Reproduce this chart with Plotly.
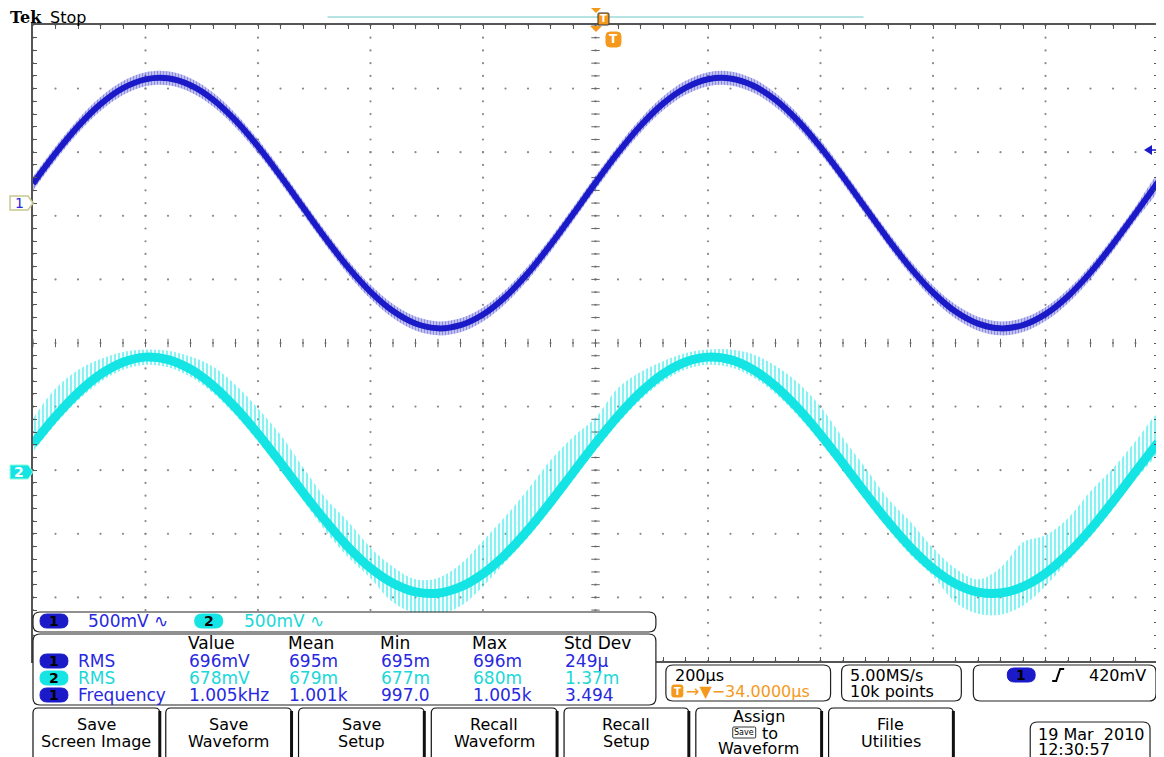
import plotly.graph_objects as go

# scope screen: 200 us/div, 500 mV/div, samples read every 0.2 div
t_us = [-1000 + 40 * i for i in range(51)]

ch1_mv = [153, 390, 603, 778, 904, 973, 981, 926, 814, 650, 446, 213, -33, -277, -504, -698, -849,
          -947, -985, -960, -876, -736, -550, -329, -88, 159, 396, 608, 782, 906, 974, 980, 924, 811,
          646, 440, 207, -39, -283, -509, -703, -853, -948, -985, -959, -873, -732, -545, -323, -82, 165]
ch1_noise_mv = 55

ch2_mv = [246, 462, 648, 794, 889, 929, 910, 834, 705, 532, 326, 99, -135, -359, -562, -729, -849,
          -917, -927, -878, -774, -622, -430, -211, 21, 252, 467, 652, 797, 891, 929, 909, 831, 701,
          527, 320, 93, -141, -365, -566, -732, -852, -918, -926, -876, -771, -617, -425, -205, 27, 258]
# extent of the spikes around the cyan trace
ch2_spike_up_mv = [200, 220, 180, 120, 80, 60, 70, 100, 150, 180, 200, 220, 200, 180, 200, 160, 130,
                   100, 120, 180, 260, 300, 320, 330, 280, 200, 220, 160, 100, 70, 60, 80, 120, 160,
                   200, 220, 200, 200, 180, 200, 160, 120, 100, 200, 350, 300, 280, 300, 260, 240, 220]
ch2_spike_dn_mv = [60, 60, 60, 60, 60, 60, 60, 60, 60, 60, 60, 60, 60, 80, 80, 80, 150, 170, 170, 150,
                   100, 60, 60, 60, 60, 60, 60, 60, 60, 60, 60, 60, 60, 60, 60, 60, 60, 60, 60, 60, 60,
                   150, 170, 170, 150, 100, 60, 60, 60, 60, 60]

ch1_offset_div = 2.2
ch2_offset_div = -2.08
mv_per_div = 500

meas_cols = ["Value", "Mean", "Min", "Max", "Std Dev"]
meas_rows = [
    ("1", "RMS", ["696mV", "695m", "695m", "696m", "249µ"]),
    ("2", "RMS", ["678mV", "679m", "677m", "680m", "1.37m"]),
    ("1", "Frequency", ["1.005kHz", "1.001k", "997.0", "1.005k", "3.494"]),
]
buttons = [["Save", "Screen Image"], ["Save", "Waveform"], ["Save", "Setup"], ["Recall", "Waveform"],
           ["Recall", "Setup"], ["Assign", "", "Waveform"], ["File", "Utilities"]]

BLUE = "#1a1ac8"
BLUE_TXT = "#2828e0"
CYAN = "#14e4e4"
CYAN_TXT = "#1ad8d8"
ORANGE = "#f5991c"
FONT = "DejaVu Sans"
FS = 17

# screen pixel frame of the graticule (page body adds an 8 px margin)
PAGE = 8
W, H = 1164 - PAGE, 757 - PAGE
L, R, T, B = 33, 1160, 25, 661


def X(x):
    return (x - L) / (R - L)


def Y(y):
    return (B - y) / (B - T)


def rrect(x0, y0, x1, y1, r):
    return (f"M{X(x0 + r)},{Y(y0)} L{X(x1 - r)},{Y(y0)} Q{X(x1)},{Y(y0)} {X(x1)},{Y(y0 + r)} "
            f"L{X(x1)},{Y(y1 - r)} Q{X(x1)},{Y(y1)} {X(x1 - r)},{Y(y1)} L{X(x0 + r)},{Y(y1)} "
            f"Q{X(x0)},{Y(y1)} {X(x0)},{Y(y1 - r)} L{X(x0)},{Y(y0 + r)} Q{X(x0)},{Y(y0)} {X(x0 + r)},{Y(y0)} Z")


def poly(pts):
    return "M" + " L".join(f"{X(a)},{Y(b)}" for a, b in pts) + " Z"


shapes = []
annotations = []


def box(x0, y0, x1, y1, r=6, fill="white", line="#222", width=1.2):
    shapes.append(dict(type="path", path=rrect(x0, y0, x1, y1, r), xref="paper", yref="paper",
                       fillcolor=fill, line=dict(color=line, width=width), layer="above"))


def label(x, y, text, color="black", size=FS, anchor="left", family=FONT, weight="normal"):
    annotations.append(dict(x=X(x), y=Y(y), xref="paper", yref="paper", text=text, showarrow=False,
                            xanchor=anchor, yanchor="middle", borderpad=0,
                            font=dict(family=family, size=size, color=color, weight=weight)))


def pill(xc, yc, num):
    fill = BLUE if num == "1" else CYAN
    box(xc - 14, yc - 7, xc + 14, yc + 7, r=7, fill=fill, line=fill, width=1)
    label(xc, yc, num, color="black", size=14, anchor="center", weight="bold")


fig = go.Figure()

# graticule dots
gx, gy = [], []
for d in range(-5, 6):
    for i in range(51):
        gx.append(-1000 + 40 * i)
        gy.append(d)
        gx.append(d * 200)
        gy.append(-5 + 0.2 * i)
fig.add_trace(go.Scatter(x=gx, y=gy, mode="markers", marker=dict(size=2.2, color="#8a8a8a"),
                         hoverinfo="skip", showlegend=False))
fig.add_trace(go.Scatter(x=[-1000 + 40 * i for i in range(51)], y=[0] * 51, mode="markers",
                         marker=dict(symbol="line-ns", size=6, line=dict(width=1, color="#666")),
                         hoverinfo="skip", showlegend=False))
fig.add_trace(go.Scatter(x=[0] * 51, y=[-5 + 0.2 * i for i in range(51)], mode="markers",
                         marker=dict(symbol="line-ew", size=6, line=dict(width=1, color="#666")),
                         hoverinfo="skip", showlegend=False))

# channel 2 with spikes
ch2_hi = [m + u for m, u in zip(ch2_mv, ch2_spike_up_mv)]
ch2_lo = [m - d for m, d in zip(ch2_mv, ch2_spike_dn_mv)]
fig.add_trace(go.Scatter(x=t_us + t_us[::-1], y=ch2_hi + ch2_lo[::-1], yaxis="y3", mode="lines",
                         line=dict(width=0, shape="spline"), fill="toself",
                         fillcolor="rgba(0,0,0,0)",
                         fillpattern=dict(shape="|", size=4, solidity=0.55, fgcolor=CYAN,
                                          bgcolor="rgba(0,0,0,0)"),
                         hoverinfo="skip", showlegend=False))
fig.add_trace(go.Scatter(x=t_us, y=ch2_mv, yaxis="y3", mode="lines",
                         line=dict(color=CYAN, width=9, shape="spline"), showlegend=False))

# channel 1
ch1_hi = [m + ch1_noise_mv for m in ch1_mv]
ch1_lo = [m - ch1_noise_mv for m in ch1_mv]
fig.add_trace(go.Scatter(x=t_us + t_us[::-1], y=ch1_hi + ch1_lo[::-1], yaxis="y2", mode="lines",
                         line=dict(width=0, shape="spline"), fill="toself",
                         fillcolor="rgba(0,0,0,0)",
                         fillpattern=dict(shape="|", size=3, solidity=0.7, fgcolor=BLUE,
                                          bgcolor="rgba(0,0,0,0)"),
                         hoverinfo="skip", showlegend=False))
fig.add_trace(go.Scatter(x=t_us, y=ch1_mv, yaxis="y2", mode="lines",
                         line=dict(color=BLUE, width=6, shape="spline"), showlegend=False))

# header
label(9, 18, "Tek", size=16, family="DejaVu Serif", weight="bold")
label(49, 18, "Stop", size=16)
shapes.append(dict(type="line", xref="paper", yref="paper", x0=X(328), x1=X(865), y0=Y(17), y1=Y(17),
                   line=dict(color="#6cc6c6", width=1)))
shapes.append(dict(type="path", xref="paper", yref="paper", path=poly([(592, 8), (602, 8), (597, 13)]),
                   fillcolor=ORANGE, line=dict(width=0)))
box(599, 13, 610, 25, r=1, fill=ORANGE, line="#333", width=1)
label(604.5, 19, "T", color="white", size=10, anchor="center", weight="bold")
shapes.append(dict(type="path", xref="paper", yref="paper", path=poly([(591, 26), (603, 26), (597, 32)]),
                   fillcolor=ORANGE, line=dict(width=0)))
box(607, 32, 622, 47, r=4, fill=ORANGE, line=ORANGE, width=1)
label(614.5, 39.5, "T", color="white", size=12, anchor="center", weight="bold")

# channel ground markers
shapes.append(dict(type="path", xref="paper", yref="paper",
                   path=poly([(10, 196), (28, 196), (33, 203), (28, 210), (10, 210)]),
                   fillcolor="white", line=dict(color="#c8c890", width=1.5)))
label(19, 203, "1", color=BLUE_TXT, size=14, anchor="center")
shapes.append(dict(type="path", xref="paper", yref="paper",
                   path=poly([(10, 465), (28, 465), (33, 472), (28, 479), (10, 479)]),
                   fillcolor=CYAN, line=dict(color="#8fd", width=1)))
label(19, 472, "2", color="white", size=14, anchor="center", weight="bold")
# trigger level arrow
shapes.append(dict(type="path", xref="paper", yref="paper",
                   path=poly([(1146, 150), (1154, 145), (1154, 155)]), fillcolor=BLUE, line=dict(width=0)))
shapes.append(dict(type="line", xref="paper", yref="paper", x0=X(1153), x1=X(1159), y0=Y(150), y1=Y(150),
                   line=dict(color=BLUE, width=1.5)))

# channel scale box
box(33, 612, 657, 632, r=7)
pill(54, 621, "1")
label(87, 621, "500mV ∿", color=BLUE_TXT)
pill(209, 621, "2")
label(243, 621, "500mV ∿", color=CYAN_TXT)

# measurement box
box(33, 634, 657, 705, r=7)
col_x = [187, 287, 380, 472, 564]
for cx, name in zip(col_x, meas_cols):
    label(cx, 643, name)
for (ch, name, vals), ry in zip(meas_rows, [661, 678, 695]):
    col = BLUE_TXT if ch == "1" else CYAN_TXT
    pill(54, ry, ch)
    label(77, ry, name, color=col)
    for cx, v in zip(col_x, vals):
        label(cx + 1, ry, v, color=col)

# timebase / acquisition / trigger boxes
box(667, 665, 832, 701, r=7)
label(675, 675, "200µs", size=16)
box(673, 685, 684, 697, r=2, fill=ORANGE, line=ORANGE, width=1)
label(678.5, 691, "T", color="white", size=10, anchor="center", weight="bold")
label(686, 691, "→▼−34.0000µs", color=ORANGE, size=16)
box(843, 665, 963, 701, r=7)
label(850, 675, "5.00MS/s", size=16)
label(850, 691, "10k points", size=16)
box(975, 665, 1158, 701, r=7)
pill(1023, 675, "1")
shapes.append(dict(type="path", xref="paper", yref="paper",
                   path=f"M{X(1054)},{Y(681)} L{X(1058)},{Y(681)} L{X(1062)},{Y(669)} L{X(1066)},{Y(669)}",
                   line=dict(color="black", width=2)))
label(1090, 675, "420mV", size=16)

# soft-key buttons
btn_x = [(33, 160), (166, 292), (299, 425), (432, 558), (565, 690), (697, 823), (830, 955)]
for (x0, x1), lines in zip(btn_x, buttons):
    box(x0, 708, x1, 770, r=5, line="#111", width=1.2)
    shapes.append(dict(type="line", xref="paper", yref="paper", x0=X(x1), x1=X(x1), y0=Y(711), y1=Y(760),
                       line=dict(color="#111", width=3), layer="above"))
    xc = (x0 + x1) / 2
    if len(lines) == 2:
        label(xc, 724, lines[0], size=16, anchor="center")
        label(xc, 741, lines[1], size=16, anchor="center")
    else:
        label(xc, 716, lines[0], size=16, anchor="center")
        box(xc - 26, 727, xc - 3, 738, r=1, fill="white", line="#333", width=1)
        label(xc - 14.5, 732.5, "Save", size=8, anchor="center")
        label(xc + 2, 733, "to", size=16)
        label(xc, 748, lines[2], size=16, anchor="center")

# date box
box(1032, 722, 1152, 775, r=7)
label(1039, 734, "19 Mar  2010", size=16)
label(1039, 749, "12:30:57", size=16)

hidden = dict(visible=False, fixedrange=True)
fig.update_layout(
    width=W, height=H, autosize=False,
    margin=dict(l=L - PAGE, r=W - (R - PAGE), t=T - PAGE, b=H - (B - PAGE)),
    paper_bgcolor="white", plot_bgcolor="white",
    xaxis=dict(range=[-1000, 1000], dtick=40, tick0=-1000, ticks="inside", ticklen=4, tickcolor="#555",
               showline=True, linecolor="#555", linewidth=1.5, mirror="ticks", showgrid=False,
               zeroline=False, showticklabels=False),
    yaxis=dict(range=[-5, 5], dtick=0.2, tick0=-5, ticks="inside", ticklen=4, tickcolor="#555",
               showline=True, linecolor="#555", linewidth=1.5, mirror="ticks", showgrid=False,
               zeroline=False, showticklabels=False),
    yaxis2=dict(overlaying="y",
                range=[(-5 - ch1_offset_div) * mv_per_div, (5 - ch1_offset_div) * mv_per_div], **hidden),
    yaxis3=dict(overlaying="y",
                range=[(-5 - ch2_offset_div) * mv_per_div, (5 - ch2_offset_div) * mv_per_div], **hidden),
    shapes=shapes, annotations=annotations, showlegend=False,
)

fig.write_html("out.html")
